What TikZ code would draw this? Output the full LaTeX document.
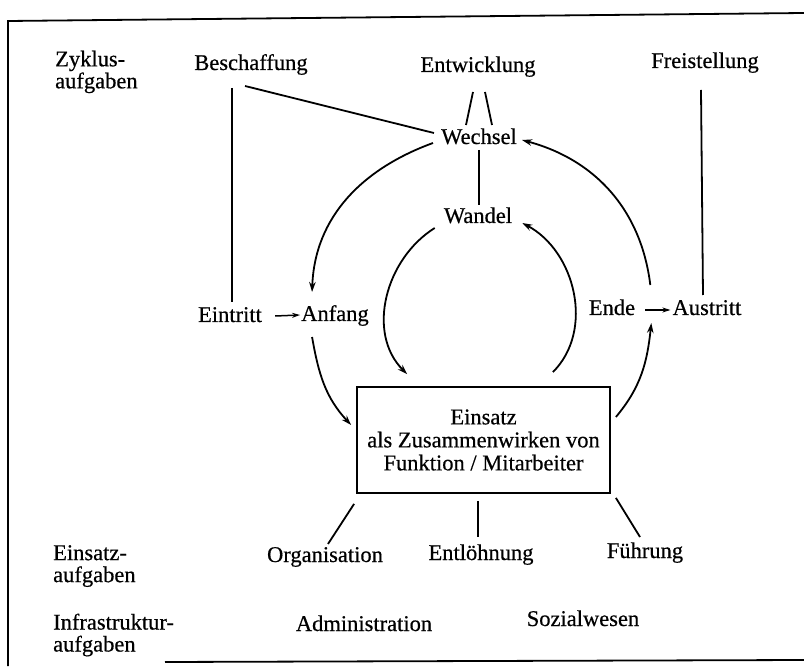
\documentclass[tikz,border=0pt]{standalone}
\usepackage{fontspec}
\setmainfont{Liberation Serif}[FakeBold=0.5]
\usetikzlibrary{arrows.meta}
\begin{document}
\begin{tikzpicture}[x=1pt,y=1pt,
  lbl/.style={inner sep=0pt, anchor=base, font=\fontsize{22.5}{23}\selectfont},
  grp/.style={inner sep=0pt, anchor=north west, align=left, font=\fontsize{22.5}{22}\selectfont},
  mainbox/.style={draw, line width=1.8pt, minimum width=253pt, minimum height=106pt,
    inner sep=0pt, align=center, font=\fontsize{22.5}{23}\selectfont},
  ln/.style={line width=1.8pt},
  arr/.style={line width=1.8pt, -{Stealth[length=10pt,width=6.5pt]}},
  sarr/.style={line width=1.5pt, -{Stealth[length=8pt,width=5pt]}},
  frame/.style={line width=1.8pt}]
\useasboundingbox (0,0) rectangle (804,-668);

% outer frame
\draw[frame] (804,-13) -- (8,-21) -- (8,-666);
\draw[frame] (165,-662) -- (804,-660);

% row labels
\node[grp] (zyk) at (55,-50.5) {Zyklus-\\aufgaben};
\node[grp] (eia) at (53,-545) {Einsatz-\\aufgaben};
\node[grp] (infa) at (53,-613.5) {Infrastruktur-\\aufgaben};

% cycle tasks
\node[lbl] (besch) at (251,-70) {Beschaffung};
\node[lbl] (entw)  at (478,-72) {Entwicklung};
\node[lbl] (frei)  at (705,-68) {Freistellung};
\node[lbl] (wech)  at (479,-144) {Wechsel};
\node[lbl] (wand)  at (478,-223) {Wandel};
\node[lbl] (eint)  at (230,-322) {Eintritt};
\node[lbl] (anf)   at (335,-321) {Anfang};
\node[lbl] (ende)  at (612,-315) {Ende};
\node[lbl] (aust)  at (707,-315) {Austritt};

% deployment
\node[mainbox] (box) at (483.5,-440) {Einsatz\\als Zusammenwirken von\\Funktion / Mitarbeiter};

% deployment tasks
\node[lbl] (org)   at (325,-562) {Organisation};
\node[lbl] (entl)  at (481,-560) {Entlöhnung};
\node[lbl] (fuehr) at (645,-558) {Führung};

% infrastructure tasks
\node[lbl] (adm)  at (364,-631) {Administration};
\node[lbl] (soz)  at (583,-626) {Sozialwesen};

% plain connections
\draw[ln] ([shift={(-19,-18)}]besch.base) -- ([shift={(2,20)}]eint.base);
\draw[ln] ([shift={(-6,-16)}]besch.base) -- ([shift={(-7,11)}]wech.base west);
\draw[ln] ([shift={(-5,-20)}]entw.base) -- ([shift={(-13,19)}]wech.base);
\draw[ln] ([shift={(7,-20)}]entw.base) -- ([shift={(13,19)}]wech.base);
\draw[ln] ([shift={(-4,-22)}]frei.base) -- ([shift={(-4,20)}]aust.base);
\draw[ln] ([yshift=-6]wech.base) -- ([shift={(1,18)}]wand.base);

% entry / exit
\draw[sarr] ([shift={(13,6)}]eint.base east) -- ([shift={(-1,6)}]anf.base west);
\draw[sarr] ([shift={(10,5)}]ende.base east) -- ([shift={(-2,5)}]aust.base west);

% outer cycle
\draw[arr] ([shift={(-8,1)}]wech.base west) to[out=200,in=88] ([shift={(11,29)}]anf.base west);
\draw[arr] ([shift={(11,-16)}]anf.base west) to[out=280,in=133] ([shift={(-5,15)}]box.west);
\draw[arr] ([shift={(5,23)}]box.east) to[out=50,in=264] ([shift={(16,-8)}]ende.base east);
\draw[arr] ([shift={(15,30)}]ende.base east) to[out=97,in=-15] ([shift={(5,4)}]wech.base east);

% inner cycle
\draw[arr] ([shift={(-9,-5)}]wand.base west) to[out=212,in=135] ([shift={(51,12)}]box.north west);
\draw[arr] ([shift={(-58,14)}]box.north east) to[out=45,in=-28] ([shift={(10,0)}]wand.base east);

% links below the box
\draw[ln] ([shift={(-2,-10)}]box.south west) -- ([shift={(3,18)}]org.base);
\draw[ln] ([shift={(-5.5,-7)}]box.south) -- ([shift={(-3,23)}]entl.base);
\draw[ln] ([shift={(5,-4)}]box.south east) -- ([shift={(-5,21)}]fuehr.base);
\end{tikzpicture}
\end{document}
